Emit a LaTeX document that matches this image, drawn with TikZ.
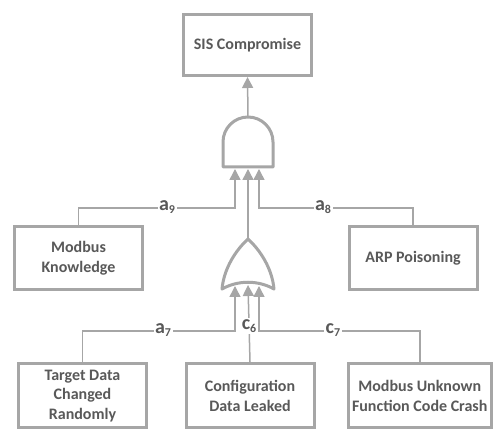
\documentclass[tikz,border=0pt]{standalone}
\usepackage{fontspec}
\setmainfont{Carlito}
\usetikzlibrary{arrows.meta,calc}
\definecolor{linegray}{HTML}{A6A6A6}
\definecolor{textgray}{HTML}{595959}
\tikzset{evt/.style={rectangle,draw=linegray,line width=3pt,fill=white,minimum width=128pt,minimum height=63pt,inner sep=1pt,align=center,text=textgray,font=\fontsize{16}{19.5}\selectfont\bfseries}}
\tikzset{conn/.style={draw=linegray,line width=1.5pt}}
\tikzset{arr/.style={conn,-{Triangle[width=11pt,length=11pt]}}}
\tikzset{gate/.style={draw=linegray,line width=3pt,fill=white,line join=round}}
\tikzset{lbl/.style={fill=white,inner sep=1.5pt,anchor=mid,text=textgray,font=\fontsize{20}{20}\selectfont\bfseries}}
\newcommand{\edgelbl}[2]{#1\raisebox{-3pt}{\fontsize{12}{12}\selectfont #2}}

\begin{document}
\begin{tikzpicture}[x=1pt,y=-1pt]
\useasboundingbox (0,0) rectangle (493,430);
% events
\node[evt,minimum height=61pt] (sis) at (247.5,45) {SIS Compromise};
\node[evt] (mk) at (78.5,258) {Modbus\\Knowledge};
\node[evt] (arp) at (413,258) {ARP Poisoning};
\node[evt,minimum height=64.5pt] (td) at (82.5,395.75) {Target Data\\Changed\\Randomly};
\node[evt,minimum height=64.5pt] (cd) at (250,395.75) {Configuration\\Data Leaked};
\node[evt,minimum height=64.5pt,minimum width=142.5pt] (mu) at (419.75,395.75) {Modbus Unknown\\Function Code Crash};
% gates
\draw[gate] (223,167) -- (223,142) arc[start angle=180,end angle=360,radius=25] -- (273,167) -- cycle;
\draw[gate] (248,239) .. controls (236,250) and (224,268) .. (222,289)
  .. controls (238,280) and (258,280) .. (274,289)
  .. controls (272,268) and (260,250) .. (248,239) -- cycle;
\coordinate (andout) at (248,117);
\coordinate (andin1) at (235,169);
\coordinate (andin2) at (248,169);
\coordinate (andin3) at (259,169);
\coordinate (orout) at (248,239);
\coordinate (orin1) at (235,286);
\coordinate (orin2) at (248,285);
\coordinate (orin3) at (259,286);
\coordinate (j9) at (235,208);
\coordinate (j8) at (259,208);
\coordinate (j7) at (235,331);
\coordinate (j6) at (259,331);
% connectors
\draw[arr] (andout) -- (sis.south);
\draw[arr] (orout) -- (andin2);
\draw[arr] (mk.north) |- node[lbl,pos=0.783]{\edgelbl{a}{9}} (j9) -- (andin1);
\draw[arr] (arp.north) |- node[lbl,pos=0.792]{\edgelbl{a}{8}} (j8) -- (andin3);
\draw[arr] (td.north) |- node[lbl,pos=0.764]{\edgelbl{a}{7}} (j7) -- (orin1);
\draw[arr] (cd.north) -- node[lbl,pos=0.45]{\edgelbl{c}{6}} (orin2);
\draw[arr] (mu.north) |- node[lbl,pos=0.77]{\edgelbl{c}{7}} (j6) -- (orin3);
\end{tikzpicture}
\end{document}
